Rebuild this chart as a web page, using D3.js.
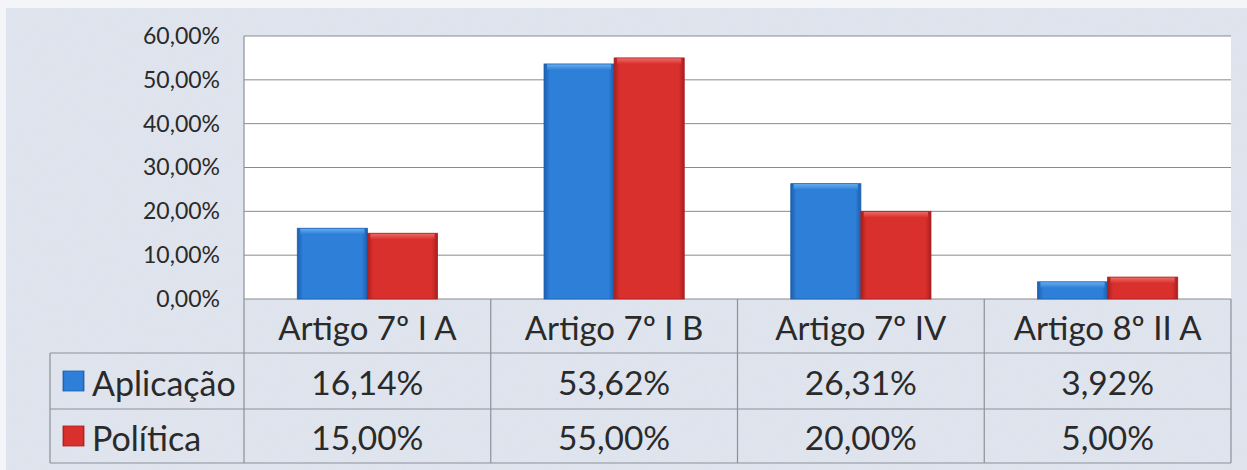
<!DOCTYPE html>
<html><head><meta charset="utf-8">
<script src="https://cdn.jsdelivr.net/npm/d3@7"></script>
<style>
html,body{margin:0;padding:0;background:#fff;}
svg{display:block;}
text{font-family:Lato,"Open Sans",sans-serif;fill:#2a2a2a;}
</style></head>
<body>
<svg id="c" width="1247" height="470"></svg>
<script>
const categories = ["Artigo 7º I A", "Artigo 7º I B", "Artigo 7º IV", "Artigo 8º II A"];
const seriesNames = ["Aplicação", "Política"];
const aplicacao = [0.1614, 0.5362, 0.2631, 0.0392];
const politica = [0.15, 0.55, 0.20, 0.05];
const aplicacaoLabels = ["16,14%", "53,62%", "26,31%", "3,92%"];
const politicaLabels = ["15,00%", "55,00%", "20,00%", "5,00%"];
const yTicks = [0, 0.1, 0.2, 0.3, 0.4, 0.5, 0.6];

const seriesValues = [aplicacao, politica];
const seriesLabels = [aplicacaoLabels, politicaLabels];
const colors = [
  {base:"#2d7fd8", light:"#6bb0f0", dark:"#1c5fae"},
  {base:"#d9302d", light:"#f0706a", dark:"#a81f1d"}
];

const svg = d3.select("#c");
const W = 1247, H = 470;
const L = 244, R = 1231, T = 36, B = 299;
const rowH = [299, 353, 409, 463];
const legendLeft = 50;

const defs = svg.append("defs");
const f = defs.append("filter").attr("id","noise").attr("x",0).attr("y",0).attr("width","100%").attr("height","100%");
f.append("feTurbulence").attr("type","fractalNoise").attr("baseFrequency",0.9).attr("numOctaves",2).attr("seed",3).attr("result","n");
f.append("feColorMatrix").attr("in","n").attr("type","matrix")
  .attr("values","0 0 0 0 0.55  0 0 0 0 0.6  0 0 0 0 0.7  0 0 0 0.18 0").attr("result","c");
f.append("feComposite").attr("in","c").attr("in2","SourceGraphic").attr("operator","in");

colors.forEach((c,i)=>{
  const g = defs.append("linearGradient").attr("id","gh"+i).attr("x1",0).attr("x2",1).attr("y1",0).attr("y2",0);
  g.append("stop").attr("offset","0").attr("stop-color",c.dark);
  g.append("stop").attr("offset","0.08").attr("stop-color",c.base);
  g.append("stop").attr("offset","0.92").attr("stop-color",c.base);
  g.append("stop").attr("offset","1").attr("stop-color",c.dark);
  const gt = defs.append("linearGradient").attr("id","gt"+i).attr("x1",0).attr("x2",0).attr("y1",0).attr("y2",1);
  gt.append("stop").attr("offset","0").attr("stop-color",c.light);
  gt.append("stop").attr("offset","1").attr("stop-color",c.base);
});

svg.append("rect").attr("x",0).attr("y",0).attr("width",W).attr("height",H).attr("fill","#f4f5f8");
svg.append("rect").attr("x",6).attr("y",8).attr("width",W-6).attr("height",H-8).attr("fill","#e1e6ef");
svg.append("rect").attr("x",6).attr("y",8).attr("width",W-6).attr("height",H-8).attr("fill","#e1e6ef").attr("filter","url(#noise)");

svg.append("rect").attr("x",L).attr("y",T).attr("width",R-L).attr("height",B-T).attr("fill","#ffffff");

const y = d3.scaleLinear().domain([0,0.6]).range([B,T]);
const x0 = d3.scaleBand().domain(categories).range([L,R]).paddingInner(0).paddingOuter(0);
const x1 = d3.scaleBand().domain(seriesNames).range([0,x0.bandwidth()]).paddingInner(0).paddingOuter(0.76);

const fmt = v => d3.format(".2f")(v*100).replace(".", ",") + "%";

svg.append("g").selectAll("line").data(yTicks).join("line")
  .attr("x1",L).attr("x2",R).attr("y1",d=>y(d)).attr("y2",d=>y(d))
  .attr("stroke","#8a8a8a").attr("stroke-width",1);

const yAxis = d3.axisLeft(y).tickValues(yTicks).tickFormat(fmt).tickSize(0).tickPadding(24);
const ya = svg.append("g").attr("transform",`translate(${L},0)`).call(yAxis);
ya.select(".domain").remove();
ya.selectAll("text").attr("font-size",23).attr("fill","#333").style("font-family","Lato,sans-serif");

const groups = svg.append("g").selectAll("g").data(categories).join("g")
  .attr("transform",d=>`translate(${x0(d)},0)`);
seriesNames.forEach((s,si)=>{
  const g = groups.append("g");
  g.append("rect")
    .attr("x",x1(s)).attr("width",x1.bandwidth())
    .attr("y",(d,i)=>y(seriesValues[si][i])).attr("height",(d,i)=>B-y(seriesValues[si][i]))
    .attr("fill",`url(#gh${si})`);
  g.append("rect")
    .attr("x",x1(s)+3).attr("width",x1.bandwidth()-6)
    .attr("y",(d,i)=>y(seriesValues[si][i])).attr("height",(d,i)=>Math.min(6,B-y(seriesValues[si][i])))
    .attr("fill",`url(#gt${si})`);
  g.append("rect")
    .attr("x",x1(s)).attr("width",x1.bandwidth())
    .attr("y",(d,i)=>y(seriesValues[si][i])).attr("height",(d,i)=>B-y(seriesValues[si][i]))
    .attr("fill","none").attr("stroke",colors[si].dark).attr("stroke-width",0.8);
});

const tbl = svg.append("g");
const lineC = "#8c9099";
const vx = [L].concat(categories.map(c=>x0(c)+x0.bandwidth()));
tbl.selectAll("line.v").data(vx).join("line")
  .attr("x1",d=>d).attr("x2",d=>d).attr("y1",(d,i)=>i===0?T:B).attr("y2",rowH[3])
  .attr("stroke",lineC).attr("stroke-width",1.2);
tbl.append("line").attr("x1",legendLeft).attr("x2",legendLeft).attr("y1",rowH[1]).attr("y2",rowH[3]).attr("stroke",lineC).attr("stroke-width",1.2);
[rowH[1],rowH[2],rowH[3]].forEach(yy=>{
  tbl.append("line").attr("x1",legendLeft).attr("x2",R).attr("y1",yy).attr("y2",yy).attr("stroke",lineC).attr("stroke-width",1.2);
});

tbl.selectAll("text.cat").data(categories).join("text")
  .attr("x",d=>x0(d)+x0.bandwidth()/2).attr("y",(rowH[0]+rowH[1])/2+1)
  .attr("text-anchor","middle").attr("dominant-baseline","central")
  .attr("font-size",33).text(d=>d);

seriesNames.forEach((s,si)=>{
  const cy = (rowH[si+1]+rowH[si+2])/2+1;
  tbl.selectAll("text.v"+si).data(categories).join("text")
    .attr("x",d=>x0(d)+x0.bandwidth()/2).attr("y",cy)
    .attr("text-anchor","middle").attr("dominant-baseline","central")
    .attr("font-size",33.5).text((d,i)=>seriesLabels[si][i]);
  tbl.append("rect").attr("x",63).attr("y",cy-11).attr("width",21).attr("height",20)
    .attr("fill",`url(#gh${si})`).attr("stroke",colors[si].dark).attr("stroke-width",0.8);
  tbl.append("text").attr("x",92).attr("y",cy).attr("dominant-baseline","central")
    .attr("font-size",34).text(s);
});
</script>
</body></html>
